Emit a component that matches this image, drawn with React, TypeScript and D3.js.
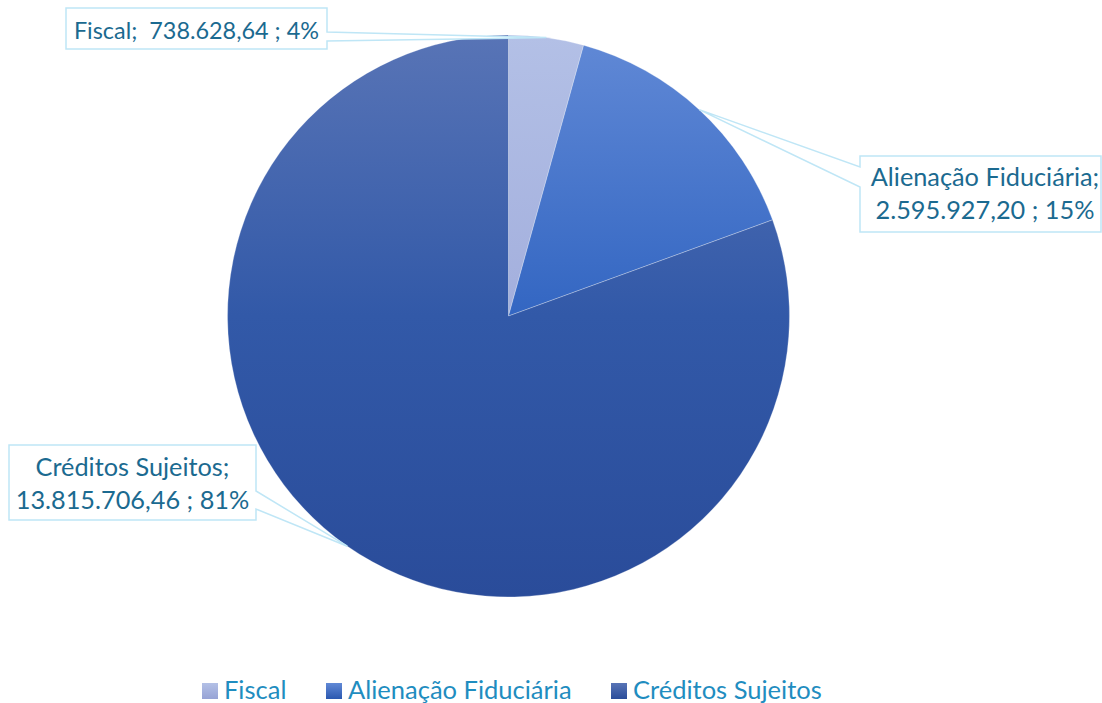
import React from "react";
import * as d3 from "d3";

const categories = ["Fiscal", "Alienação Fiduciária", "Créditos Sujeitos"];
const values = [738628.64, 2595927.2, 13815706.46];
const valueLabels = ["738.628,64", "2.595.927,20", "13.815.706,46"];
const percentLabels = ["4%", "15%", "81%"];

const W = 1102;
const H = 703;
const cx = 508.5;
const cy = 316;
const R = 281;
const FONT = "Lato, 'Open Sans', sans-serif";

const gradTop = ["#b3c0e6", "#6189d6", "#5874b6"];
const gradMid = ["#a3afdd", "#3366c2", "#3259a8"];
const gradBottom = ["#97a3d5", "#2b58b0", "#2a4c9a"];

export default function App() {
  const pie = d3.pie<number>().sort(null).value((d) => d);
  const arcs = pie(values);
  const arc = d3.arc<d3.PieArcDatum<number>>().innerRadius(0).outerRadius(R);
  const tip = (i: number) => {
    const a = (arcs[i].startAngle + arcs[i].endAngle) / 2;
    return [cx + R * Math.sin(a), cy - R * Math.cos(a)];
  };

  const t0 = tip(0);
  const t1 = tip(1);
  const t2 = tip(2);

  const boxStroke = "#bfe6f6";
  const labelColor = "#1b6a90";
  const legendX = [202, 326, 611];

  return (
    <svg width={W} height={H} style={{ position: "absolute", left: 0, top: 0 }}>
      <defs>
        {categories.map((c, i) => (
          <linearGradient
            key={c}
            id={`g${i}`}
            gradientUnits="userSpaceOnUse"
            x1={0}
            y1={-R}
            x2={0}
            y2={R}
          >
            <stop offset="0" stopColor={gradTop[i]} />
            <stop offset="0.5" stopColor={gradMid[i]} />
            <stop offset="1" stopColor={gradBottom[i]} />
          </linearGradient>
        ))}
        {categories.map((c, i) => (
          <linearGradient key={"l" + c} id={`lg${i}`} x1={0} y1={0} x2={0} y2={1}>
            <stop offset="0" stopColor={gradTop[i]} />
            <stop offset="1" stopColor={gradBottom[i]} />
          </linearGradient>
        ))}
      </defs>
      <g transform={`translate(${cx},${cy})`}>
        {arcs.map((a, i) => (
          <path
            key={i}
            d={arc(a) || ""}
            fill={`url(#g${i})`}
            stroke="#ffffff"
            strokeOpacity={0.35}
            strokeWidth={0.8}
          />
        ))}
      </g>

      {/* Fiscal callout */}
      <path
        d={`M66,8 H327 V32 L${t0[0]},${t0[1]} L327,41 V49 H66 Z`}
        fill="#ffffff"
        stroke={boxStroke}
        strokeWidth={1.5}
      />
      <text x={196.5} y={39} textAnchor="middle" fontFamily={FONT} fontSize={23.4} fill={labelColor} xmlSpace="preserve">
        {`${categories[0]};  ${valueLabels[0]} ; ${percentLabels[0]}`}
      </text>

      {/* Alienação callout */}
      <path
        d={`M860,156 H1101 V232 H860 V187 L${t1[0]},${t1[1]} L860,167 Z`}
        fill="#ffffff"
        stroke={boxStroke}
        strokeWidth={1.5}
      />
      <text x={985} y={186} textAnchor="middle" fontFamily={FONT} fontSize={25.3} fill={labelColor}>
        {`${categories[1]};`}
      </text>
      <text x={985} y={219} textAnchor="middle" fontFamily={FONT} fontSize={25.3} fill={labelColor}>
        {`${valueLabels[1]} ; ${percentLabels[1]}`}
      </text>

      {/* Créditos callout */}
      <path
        d={`M9,445 H256 V491 L${t2[0]},${t2[1]} L256,509 V520 H9 Z`}
        fill="#ffffff"
        stroke={boxStroke}
        strokeWidth={1.5}
      />
      <text x={132.5} y={476} textAnchor="middle" fontFamily={FONT} fontSize={25.3} fill={labelColor}>
        {`${categories[2]};`}
      </text>
      <text x={132.5} y={509} textAnchor="middle" fontFamily={FONT} fontSize={25.3} fill={labelColor}>
        {`${valueLabels[2]} ; ${percentLabels[2]}`}
      </text>

      {/* Legend */}
      {categories.map((c, i) => (
        <g key={"lgd" + i}>
          <rect x={legendX[i]} y={683} width={16} height={16} fill={`url(#lg${i})`} />
          <text x={legendX[i] + 22} y={699} fontFamily={FONT} fontSize={25.5} fill="#1f8dc0">
            {c}
          </text>
        </g>
      ))}
    </svg>
  );
}
